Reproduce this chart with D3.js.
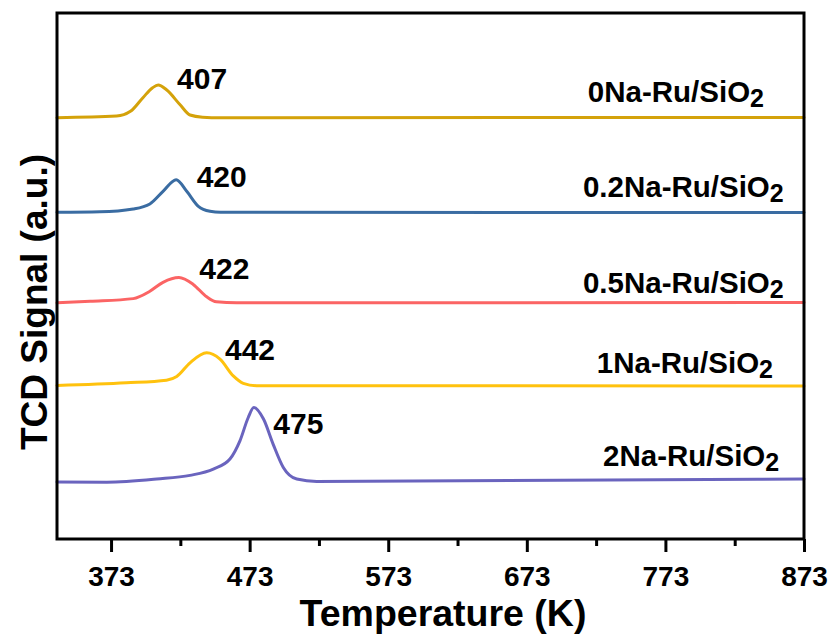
<!DOCTYPE html>
<html>
<head>
<meta charset="utf-8">
<script src="https://cdn.jsdelivr.net/npm/d3@7"></script>
<style>
  html, body { margin: 0; padding: 0; background: #fff; }
  svg { display: block; }
  text { font-family: "Liberation Sans", Arial, sans-serif; font-weight: bold; fill: #000; }
</style>
</head>
<body>
<svg id="chart" width="832" height="634"></svg>
<script>
// ---- data (temperature K, TCD signal a.u., curves offset vertically) ----
const seriesNames = ["0Na-Ru/SiO", "0.2Na-Ru/SiO", "0.5Na-Ru/SiO", "1Na-Ru/SiO", "2Na-Ru/SiO"];
const seriesColors = ["#D4A20A", "#3A6CA2", "#FB6464", "#FFC20E", "#6A64BE"];

const curve0Na = [[334,80.1],[377,80.4],[387,81.3],[396,83.9],[403,85.8],[407,86.3],[413,85.4],[423,82.5],[430,80.6],[439,80.2],[452,80.1],[873,80.15]];
const curve02Na = [[334,62.1],[365,62.2],[389,62.75],[401,63.7],[410.5,66.1],[420,68.3],[427.6,66.1],[436,63.25],[444.4,62.3],[452,62.1],[873,62.05]];
const curve05Na = [[334,44.9],[358,45.2],[389,45.7],[401,47.1],[410.5,48.8],[422,49.7],[432.3,48.4],[442,46.05],[449,45.1],[463.7,44.9],[873,44.95]];
const curve1Na = [[334,29.2],[384,29.7],[413,30.2],[420.4,30.9],[430,33.5],[442,35.4],[451.6,34.2],[461.2,31.0],[468.4,29.6],[478,29.15],[873,29.1]];
const curve2Na = [[334,10.85],[370,10.8],[406,11.4],[430,12.1],[446.8,13.3],[458.8,15.2],[466,18.65],[472,23.1],[476,25.0],[483,22.8],[490,18.0],[497.3,13.6],[507,11.4],[521.4,10.95],[873,11.4]];
const curves = [curve0Na, curve02Na, curve05Na, curve1Na, curve2Na];

const peakLabels = ["407", "420", "422", "442", "475"];
const peakLabelAt = [[420.6,85.55],[434.8,66.9],[436.7,49.4],[455.2,34.0],[490.1,19.96]];
const nameLabelAt = [[717,83.0],[713.5,65.0],[713.5,46.8],[723.5,31.6],[728,13.8]];

const xTicks = [373, 473, 573, 673, 773, 873];
const xMinorTicks = [423, 523, 623, 723, 823];
const xDomain = [334, 873];
const yDomain = [0, 100];

// ---- layout ----
const svg = d3.select("#chart");
const L = 57, R = 804, T = 13, B = 539;

const x = d3.scaleLinear().domain(xDomain).range([L, R]);
const y = d3.scaleLinear().domain(yDomain).range([B, T]);

const line = d3.line()
  .x(d => x(d[0]))
  .y(d => y(d[1]))
  .curve(d3.curveMonotoneX);

// curves
curves.forEach((c, i) => {
  svg.append("path")
    .datum(c)
    .attr("d", line)
    .attr("fill", "none")
    .attr("stroke", seriesColors[i])
    .attr("stroke-width", 3)
    .attr("stroke-linejoin", "round")
    .attr("stroke-linecap", "round");
});

// frame
svg.append("rect")
  .attr("x", L).attr("y", T)
  .attr("width", R - L).attr("height", B - T)
  .attr("fill", "none").attr("stroke", "#000").attr("stroke-width", 3);

// x axis (major ticks)
const xAxis = d3.axisBottom(x)
  .tickValues(xTicks)
  .tickSize(13)
  .tickPadding(12)
  .tickFormat(d3.format("d"));
const gx = svg.append("g").attr("transform", `translate(0,${B})`).call(xAxis);
gx.select(".domain").remove();
gx.selectAll(".tick line").attr("stroke", "#000").attr("stroke-width", 3);
gx.selectAll(".tick text")
  .attr("font-size", 28)
  .attr("font-family", "'Liberation Sans', Arial, sans-serif")
  .attr("font-weight", "bold")
  .attr("fill", "#000")
  .attr("dy", null)
  .attr("y", 47);

// minor ticks
const xMinor = d3.axisBottom(x).tickValues(xMinorTicks).tickSize(7).tickFormat("");
const gm = svg.append("g").attr("transform", `translate(0,${B})`).call(xMinor);
gm.select(".domain").remove();
gm.selectAll(".tick line").attr("stroke", "#000").attr("stroke-width", 3);

// axis titles
svg.append("text")
  .attr("x", 443).attr("y", 626)
  .attr("text-anchor", "middle")
  .attr("font-size", 37.5)
  .text("Temperature (K)");

svg.append("text")
  .attr("transform", "translate(47,302) rotate(-90)")
  .attr("text-anchor", "middle")
  .attr("font-size", 37)
  .text("TCD Signal (a.u.)");

// peak labels
peakLabels.forEach((t, i) => {
  svg.append("text")
    .attr("x", x(peakLabelAt[i][0]))
    .attr("y", y(peakLabelAt[i][1]))
    .attr("font-size", 30)
    .text(t);
});

// series name labels with subscript 2
seriesNames.forEach((n, i) => {
  const tx = svg.append("text")
    .attr("x", x(nameLabelAt[i][0]))
    .attr("y", y(nameLabelAt[i][1]))
    .attr("font-size", 29.5);
  tx.append("tspan").text(n);
  tx.append("tspan").attr("font-size", 25).attr("dy", 5).text("2");
});
</script>
</body>
</html>
